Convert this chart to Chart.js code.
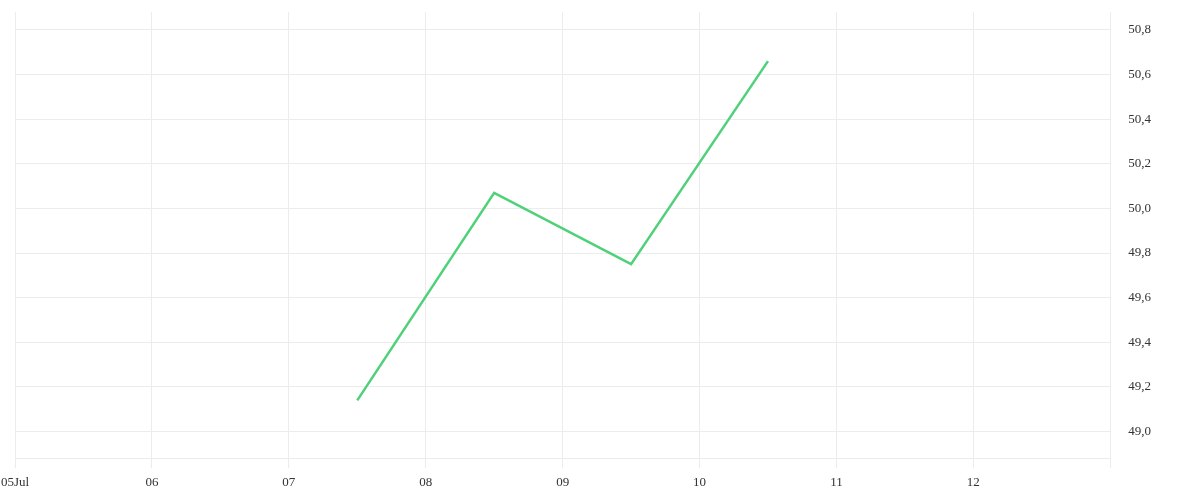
<!DOCTYPE html>
<html>
<head>
<meta charset="utf-8">
<script src="https://cdn.jsdelivr.net/npm/chart.js@4/dist/chart.umd.min.js"></script>
<style>
  html, body { margin: 0; padding: 0; background: #fff; }
  #wrap { width: 1200px; height: 500px; }
</style>
</head>
<body>
<div id="wrap"><canvas id="chart" width="1200" height="500"></canvas></div>
<script>
// days since 05 Jul (point sits at midday)
const dayLabels = ['05Jul', '06', '07', '08', '09', '10', '11', '12', ''];
const pointDays = [2.5, 3.5, 4.5, 5.5];
const pointValues = [49.14, 50.07, 49.75, 50.66];
const yTicks = [49.0, 49.2, 49.4, 49.6, 49.8, 50.0, 50.2, 50.4, 50.6, 50.8];

const gridColor = '#ececec';
const textColor = '#333';
const fontFamily = '"Liberation Serif", "DejaVu Serif", serif';

new Chart(document.getElementById('chart').getContext('2d'), {
    type: 'line',
    data: {
        datasets: [{
            data: pointDays.map((d, i) => ({ x: d, y: pointValues[i] })),
            borderColor: '#4fd17a',
            borderWidth: 2.5,
            pointRadius: 0,
            tension: 0,
            fill: false
        }]
    },
    options: {
        responsive: false,
        animation: false,
        layout: { padding: { left: 15, right: 31, top: 12, bottom: 4 } },
        plugins: { legend: { display: false }, tooltip: { enabled: false } },
        scales: {
            x: {
                type: 'linear',
                min: 0,
                max: 8,
                afterBuildTicks: axis => { axis.ticks = dayLabels.map((_, i) => ({ value: i })); },
                afterFit: axis => { axis.paddingLeft = 0; axis.paddingRight = 0; },
                ticks: {
                    color: textColor,
                    font: { family: fontFamily, size: 13 },
                    maxRotation: 0,
                    autoSkip: false,
                    padding: 6,
                    callback: v => dayLabels[v]
                },
                grid: { color: gridColor, tickLength: 10 },
                border: { color: gridColor }
            },
            y: {
                position: 'right',
                min: 48.88,
                max: 50.88,
                afterBuildTicks: axis => { axis.ticks = yTicks.map(v => ({ value: v })); },
                afterFit: axis => { axis.paddingTop = 0; axis.paddingBottom = 0; },
                ticks: {
                    color: textColor,
                    font: { family: fontFamily, size: 13 },
                    padding: 18,
                    callback: v => v.toFixed(1).replace('.', ',')
                },
                grid: { color: gridColor, drawTicks: false },
                border: { color: gridColor }
            }
        }
    }
});
</script>
</body>
</html>
